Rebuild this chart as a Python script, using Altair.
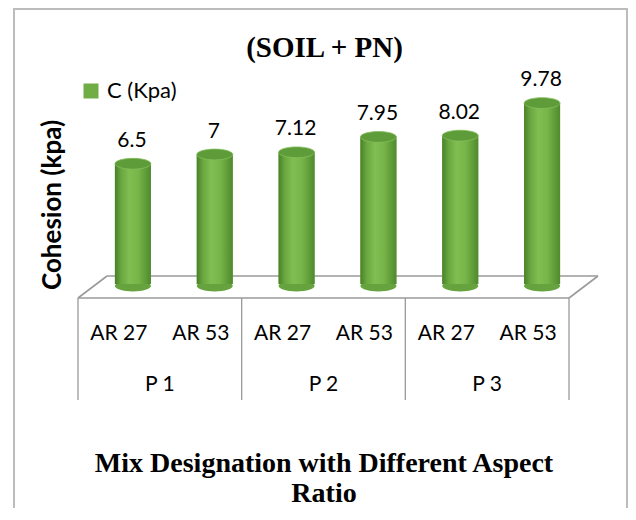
import altair as alt
import pandas as pd

# ---- data ----
groups = ["P 1", "P 1", "P 2", "P 2", "P 3", "P 3"]
aspect = ["AR 27", "AR 53", "AR 27", "AR 53", "AR 27", "AR 53"]
cohesion = [6.5, 7, 7.12, 7.95, 8.02, 9.78]
value_text = ["6.5", "7", "7.12", "7.95", "8.02", "9.78"]
series_name = "C (Kpa)"
chart_title = "(SOIL + PN)"
y_title = "Cohesion (kpa)"
x_title_1 = "Mix Designation with Different Aspect"
x_title_2 = "Ratio"

df = pd.DataFrame({
    "i": list(range(len(cohesion))),
    "group": groups,
    "ar": aspect,
    "c": cohesion,
    "base": [0] * len(cohesion),
    "label": value_text,
    "series": [series_name] * len(cohesion),
})
grp = df.groupby("group", sort=False)["i"].agg(["min", "max"]).reset_index()
grp["mid"] = (grp["min"] + grp["max"]) / 2
edges = sorted(set(list(grp["min"] - 0.5) + list(grp["max"] + 0.5)))
bounds = pd.DataFrame({"b": edges})
floor = pd.DataFrame({"x0": [edges[0]], "x1": [edges[-1]]})

# ---- style ----
W, H = 620, 500
SANS = "Lato"
SERIF = "Liberation Serif"
BAR_W = 36
SHIFT = 14          # depth shift of the cylinders
DEPTH_X, DEPTH_Y = 29, 22
LINE = "#9a9a9a"
BORDER = "#bcbcbc"

xs = alt.Scale(domain=[edges[0], edges[-1]], range=[65, 566], nice=False, zero=False)
ys = alt.Scale(domain=[0, 10], range=[276, 91], nice=False, zero=False)


def X(f):
    return alt.X(f, type="quantitative", scale=xs, axis=None)


def Y(f):
    return alt.Y(f, type="quantitative", scale=ys, axis=None)


body_grad = alt.LinearGradient(
    gradient="linear", x1=0, x2=1, y1=0, y2=0,
    stops=[
        alt.GradientStop(color="#4a8129", offset=0),
        alt.GradientStop(color="#6aa840", offset=0.18),
        alt.GradientStop(color="#80be51", offset=0.4),
        alt.GradientStop(color="#77b548", offset=0.65),
        alt.GradientStop(color="#4f8a2d", offset=1),
    ],
)
k = 0.3
c = 0.5523
ellipse = (
    f"M-1,0C-1,{-c*k:.4f},{-c},{-k},0,{-k}C{c},{-k},1,{-c*k:.4f},1,0"
    f"C1,{c*k:.4f},{c},{k},0,{k}C{-c},{k},-1,{c*k:.4f},-1,0Z"
)

# border (three sides visible)
border_l = alt.Chart(floor).mark_rule(color=BORDER, strokeWidth=2).encode(
    x=alt.value(6), y=alt.value(0), y2=alt.value(H))
border_r = alt.Chart(floor).mark_rule(color=BORDER, strokeWidth=2).encode(
    x=alt.value(619), y=alt.value(0), y2=alt.value(H))
border_t = alt.Chart(floor).mark_rule(color=BORDER, strokeWidth=2).encode(
    x=alt.value(6), x2=alt.value(619), y=alt.value(1))

# floor parallelogram
floor_front = alt.Chart(floor).mark_rule(color=LINE, strokeWidth=1.6).encode(
    x=X("x0"), x2="x1", y=alt.value(290))
floor_back = alt.Chart(floor).mark_rule(color=LINE, strokeWidth=1.6, xOffset=DEPTH_X, x2Offset=DEPTH_X).encode(
    x=X("x0"), x2="x1", y=alt.value(290 - DEPTH_Y))
floor_l = alt.Chart(floor).mark_rule(color=LINE, strokeWidth=1.6, x2Offset=DEPTH_X).encode(
    x=X("x0"), x2="x0", y=alt.value(290), y2=alt.value(290 - DEPTH_Y))
floor_r = alt.Chart(floor).mark_rule(color=LINE, strokeWidth=1.6, x2Offset=DEPTH_X).encode(
    x=X("x1"), x2="x1", y=alt.value(290), y2=alt.value(290 - DEPTH_Y))

# table lines under the floor
table = alt.Chart(bounds).mark_rule(color=LINE, strokeWidth=1.3).encode(
    x=X("b"), y=alt.value(290), y2=alt.value(392))

# cylinders
bottom_cap = alt.Chart(df).mark_point(
    shape=ellipse, size=BAR_W ** 2, filled=True, opacity=1, color="#66a33f",
    strokeWidth=0, xOffset=SHIFT, yOffset=2,
).encode(x=X("i"), y=Y("base"))

bars_legend = alt.Chart(df).mark_bar(size=BAR_W, xOffset=SHIFT).encode(
    x=X("i"), y=Y("c"),
    color=alt.Color(
        "series:N", scale=alt.Scale(range=["#70AD47"]),
        legend=alt.Legend(
            orient="none", legendX=72, legendY=72, title=None,
            symbolType="square", symbolSize=225, symbolStrokeWidth=0,
            labelFont=SANS, labelFontSize=22, labelColor="black",
            labelOffset=5, padding=0,
        ),
    ),
)
bars = alt.Chart(df).mark_bar(size=BAR_W, xOffset=SHIFT, color=body_grad).encode(
    x=X("i"), y=Y("c"))

top_cap = alt.Chart(df).mark_point(
    shape=ellipse, size=BAR_W ** 2, filled=True, opacity=1, fill="#5e9c3a",
    stroke="#85bf5c", strokeWidth=0.8, xOffset=SHIFT,
).encode(x=X("i"), y=Y("c"))

values = alt.Chart(df).mark_text(
    font=SANS, fontSize=21, color="black", dx=SHIFT - 1, dy=-17, baseline="alphabetic",
).encode(x=X("i"), y=Y("c"), text="label:N")

ar_labels = alt.Chart(df).mark_text(
    font=SANS, fontSize=21, color="black", baseline="alphabetic",
).encode(x=X("i"), y=alt.value(332), text="ar:N")

p_labels = alt.Chart(grp).mark_text(
    font=SANS, fontSize=21, color="black", baseline="alphabetic",
).encode(x=X("mid"), y=alt.value(383), text="group:N")

title = alt.Chart(floor).mark_text(
    font=SERIF, fontSize=29, fontWeight="bold", color="black", baseline="alphabetic",
).encode(x=alt.value(316.5), y=alt.value(49), text=alt.value(chart_title))

ytitle = alt.Chart(floor).mark_text(
    font=SANS, fontSize=26, fontWeight="bold", color="black", angle=270, baseline="alphabetic",
).encode(x=alt.value(53), y=alt.value(197), text=alt.value(y_title))

xtitle1 = alt.Chart(floor).mark_text(
    font=SERIF, fontSize=28, fontWeight="bold", color="black", baseline="alphabetic",
).encode(x=alt.value(316), y=alt.value(464), text=alt.value(x_title_1))
xtitle2 = alt.Chart(floor).mark_text(
    font=SERIF, fontSize=28, fontWeight="bold", color="black", baseline="alphabetic",
).encode(x=alt.value(316), y=alt.value(494), text=alt.value(x_title_2))

chart = alt.layer(
    border_l, border_r, border_t,
    floor_back, floor_front, floor_l, floor_r, table,
    bottom_cap, bars_legend, bars, top_cap,
    values, ar_labels, p_labels, title, ytitle, xtitle1, xtitle2,
).properties(
    width=W, height=H, padding=0,
    autosize=alt.AutoSizeParams(type="none"),
    background="white",
).configure_view(stroke=None)

chart.save("out.html", embed_options={"renderer": "svg", "actions": False})
